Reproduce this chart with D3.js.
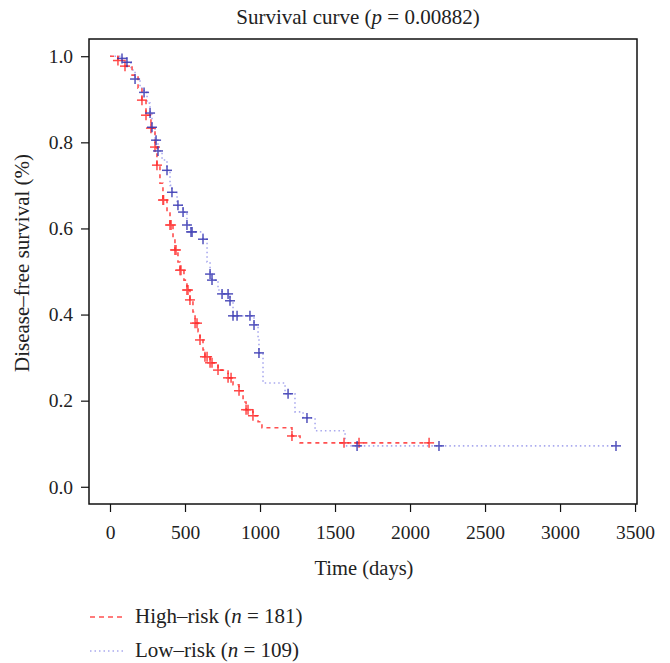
<!DOCTYPE html>
<html>
<head>
<meta charset="utf-8">
<script src="https://cdn.jsdelivr.net/npm/d3@7"></script>
<style>
  body { margin: 0; background: #fff; }
  text { font-family: "Liberation Serif", "DejaVu Serif", serif; fill: #222; }
</style>
</head>
<body>
<div id="chart"></div>
<script>
// Kaplan-Meier steps: [time (days), survival after step]
const highRiskSteps = [
    [0, 1.0], [53, 0.99], [100, 0.977], [147, 0.956], [187, 0.926], [213, 0.898],
    [240, 0.863], [273, 0.833], [300, 0.789], [313, 0.747], [333, 0.705], [353, 0.666],
    [380, 0.636], [400, 0.608], [420, 0.573], [433, 0.55], [453, 0.522], [467, 0.503],
    [493, 0.48], [513, 0.457], [533, 0.434], [553, 0.406], [567, 0.38], [587, 0.36],
    [600, 0.341], [620, 0.318], [633, 0.302], [667, 0.288], [720, 0.271], [787, 0.253],
    [820, 0.237], [860, 0.223], [887, 0.197], [907, 0.179], [953, 0.165], [987, 0.151],
    [1013, 0.137], [1213, 0.118], [1267, 0.102], [2127, 0.102]
];
const lowRiskSteps = [
    [0, 1.0], [80, 0.995], [113, 0.986], [140, 0.968], [167, 0.947], [200, 0.926],
    [227, 0.916], [247, 0.891], [267, 0.868], [280, 0.835], [300, 0.805], [320, 0.78],
    [347, 0.759], [380, 0.735], [400, 0.70], [413, 0.684], [447, 0.654], [487, 0.638],
    [513, 0.608], [540, 0.592], [620, 0.575], [647, 0.522], [667, 0.494], [680, 0.48],
    [720, 0.457], [747, 0.448], [800, 0.432], [820, 0.397], [960, 0.376], [987, 0.341],
    [993, 0.311], [1020, 0.241], [1167, 0.216], [1233, 0.174], [1287, 0.16],
    [1367, 0.13], [1567, 0.095], [3373, 0.095]
];
// censoring times (+ marks)
const highRiskCensor = [53, 100, 213, 240, 273, 300, 313, 353, 357, 400, 407, 433, 440,
    467, 473, 513, 520, 533, 567, 580, 600, 633, 647, 667, 680, 720, 787, 807, 860,
    907, 920, 953, 1213, 1560, 1660, 2127];
const lowRiskCensor = [80, 113, 167, 227, 267, 280, 307, 320, 380, 413, 453, 487, 513,
    540, 547, 620, 667, 680, 747, 787, 800, 820, 847, 933, 960, 993, 1187, 1313, 1647,
    2193, 3373];
const xTicks = [0, 500, 1000, 1500, 2000, 2500, 3000, 3500];
const yTicks = [0, 0.2, 0.4, 0.6, 0.8, 1.0];

const width = 670, height = 663;
const margin = { left: 89, right: 33, top: 39, bottom: 159 };

const svg = d3.select('#chart').append('svg')
    .attr('width', width)
    .attr('height', height);

const x = d3.scaleLinear().domain([-140, 3513]).range([margin.left, width - margin.right]);
const y = d3.scaleLinear().domain([-0.04, 1.04]).range([height - margin.bottom, margin.top]);

// survival at time t from step list
function survAt(steps, t) {
    let s = 1;
    for (const d of steps) { if (d[0] <= t) s = d[1]; else break; }
    return s;
}

const line = d3.line()
    .x(d => x(d[0]))
    .y(d => y(d[1]))
    .curve(d3.curveStepAfter);

// curves
svg.append('path')
    .attr('d', line(lowRiskSteps))
    .attr('fill', 'none')
    .attr('stroke', '#a9a9ee')
    .attr('stroke-width', 1.6)
    .attr('stroke-dasharray', '1.5,3');

svg.append('path')
    .attr('d', line(highRiskSteps))
    .attr('fill', 'none')
    .attr('stroke', '#ff5050')
    .attr('stroke-width', 1.6)
    .attr('stroke-dasharray', '4,4');

function drawCensor(times, steps, color) {
    const g = svg.append('g').attr('stroke', color).attr('stroke-width', 1.5).attr('opacity', 0.85);
    times.forEach(t => {
        const cx = x(t), cy = y(survAt(steps, t));
        g.append('line').attr('x1', cx - 5).attr('x2', cx + 5).attr('y1', cy).attr('y2', cy);
        g.append('line').attr('x1', cx).attr('x2', cx).attr('y1', cy - 5).attr('y2', cy + 5);
    });
}
drawCensor(highRiskCensor, highRiskSteps, '#ff2a2a');
drawCensor(lowRiskCensor, lowRiskSteps, '#3434b0');

// box
svg.append('rect')
    .attr('x', margin.left).attr('y', margin.top)
    .attr('width', width - margin.left - margin.right)
    .attr('height', height - margin.top - margin.bottom)
    .attr('fill', 'none')
    .attr('stroke', '#111')
    .attr('stroke-width', 1.5);

// axes
const xAxis = svg.append('g')
    .attr('transform', `translate(0,${height - margin.bottom})`)
    .call(d3.axisBottom(x).tickValues(xTicks).tickSize(8).tickPadding(13).tickFormat(d3.format('d')));
const yAxis = svg.append('g')
    .attr('transform', `translate(${margin.left},0)`)
    .call(d3.axisLeft(y).tickValues(yTicks).tickSize(8).tickPadding(8).tickFormat(d3.format('.1f')));
[xAxis, yAxis].forEach(a => {
    a.select('.domain').remove();
    a.selectAll('.tick line').attr('stroke', '#111').attr('stroke-width', 1.2);
    a.selectAll('.tick text').style('font-size', '19.5px').attr('fill', '#222')
        .style('font-family', '"Liberation Serif", serif');
});

// title
const title = svg.append('text')
    .attr('x', 358).attr('y', 24)
    .attr('text-anchor', 'middle')
    .style('font-size', '21px');
title.append('tspan').text('Survival curve (');
title.append('tspan').style('font-style', 'italic').text('p');
title.append('tspan').text(' = 0.00882)');

svg.append('text')
    .attr('x', 364).attr('y', 575)
    .attr('text-anchor', 'middle')
    .style('font-size', '20.5px')
    .text('Time (days)');

svg.append('text')
    .attr('transform', 'translate(29,263) rotate(-90)')
    .attr('text-anchor', 'middle')
    .style('font-size', '21px')
    .text('Disease–free survival (%)');

// legend
const legendItems = [
    { label: 'High–risk', n: 181, color: '#ff5050', dash: '5,4', y: 623 },
    { label: 'Low–risk', n: 109, color: '#a9a9ee', dash: '1.5,3', y: 657 }
];
legendItems.forEach(d => {
    svg.append('line')
        .attr('x1', 90).attr('x2', 126)
        .attr('y1', d.y - 6).attr('y2', d.y - 6)
        .attr('stroke', d.color).attr('stroke-width', 1.6)
        .attr('stroke-dasharray', d.dash);
    const t = svg.append('text').attr('x', 135).attr('y', d.y).style('font-size', '21px');
    t.append('tspan').text(d.label + ' (');
    t.append('tspan').style('font-style', 'italic').text('n');
    t.append('tspan').text(' = ' + d.n + ')');
});
</script>
</body>
</html>
